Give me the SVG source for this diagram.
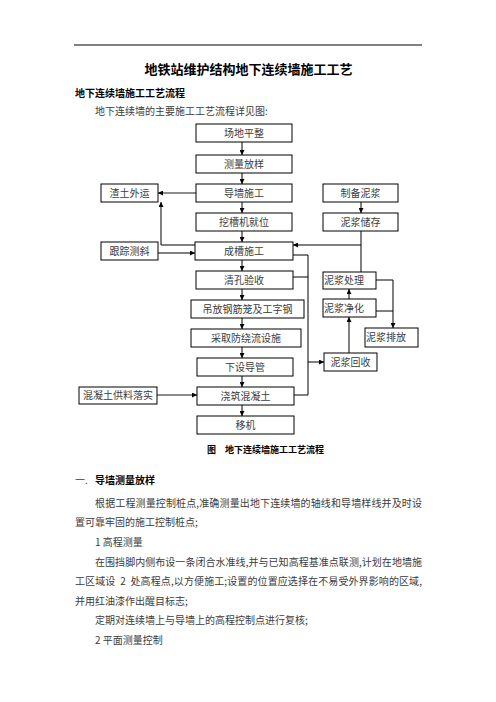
<svg xmlns="http://www.w3.org/2000/svg" width="496" height="702" viewBox="0 0 496 702">
<defs>
<style>
text{font-family:"Noto Sans CJK SC","Noto Sans",sans-serif;fill:#3c3c3c;font-size:10px}
.t{font-size:13px;font-weight:bold;fill:#000}
.h{font-weight:bold;fill:#000}
.c{font-size:9px;font-weight:bold;fill:#000}
.b{fill:#fff;stroke:#000;stroke-width:1}
.n text{text-anchor:middle}
.n text.l{text-anchor:start}
.k{fill:none;stroke:#000;stroke-width:1}
.g{fill:none;stroke:#666;stroke-width:1.6}
.pre{white-space:pre}
</style>
<marker id="a" viewBox="0 0 6 6" refX="6" refY="3" markerWidth="5" markerHeight="5" markerUnits="userSpaceOnUse" orient="auto">
<path d="M0,0 L6,3 L0,6 z" fill="#000"/>
</marker>
</defs>
<rect width="496" height="702" fill="#fff"/>
<line x1="74" y1="45" x2="422" y2="45" stroke="#000" stroke-width="1"/>
<text class="t" x="248.5" y="74" text-anchor="middle">地铁站维护结构地下连续墙施工工艺</text>
<text class="h" x="75" y="97">地下连续墙施工工艺流程</text>
<text x="95" y="115">地下连续墙的主要施工工艺流程详见图:</text>

<g id="connectors">
<line class="k" x1="242" y1="142" x2="242" y2="155" marker-end="url(#a)"/>
<line class="k" x1="242" y1="173" x2="242" y2="184" marker-end="url(#a)"/>
<line class="k" x1="242" y1="202" x2="242" y2="213" marker-end="url(#a)"/>
<line class="k" x1="242" y1="231" x2="242" y2="242" marker-end="url(#a)"/>
<line class="k" x1="242" y1="260" x2="242" y2="271" marker-end="url(#a)"/>
<line class="k" x1="242" y1="289" x2="242" y2="300" marker-end="url(#a)"/>
<line class="k" x1="242" y1="318" x2="242" y2="329" marker-end="url(#a)"/>
<line class="k" x1="242" y1="347" x2="242" y2="358" marker-end="url(#a)"/>
<line class="k" x1="242" y1="376" x2="242" y2="387" marker-end="url(#a)"/>
<line class="k" x1="242" y1="405" x2="242" y2="416" marker-end="url(#a)"/>
<line class="g" x1="196" y1="193" x2="158" y2="193" marker-end="url(#a)"/>
<polyline class="k" points="195,245 161,245 161,202" marker-end="url(#a)"/>
<line class="k" x1="158" y1="253" x2="195" y2="253" marker-end="url(#a)"/>
<line class="g" x1="157" y1="395" x2="197" y2="395" marker-end="url(#a)"/>
<line class="k" x1="361" y1="202" x2="361" y2="213" marker-end="url(#a)"/>
<line class="k" x1="361" y1="231" x2="361" y2="272"/>
<line class="k" x1="361" y1="245" x2="293" y2="245" marker-end="url(#a)"/>
<polyline class="k" points="293,255 308,255 308,395 294,395"/>
<line class="k" x1="293" y1="277" x2="308" y2="277"/>
<line class="k" x1="308" y1="362" x2="324" y2="362" marker-end="url(#a)"/>
<line class="k" x1="349" y1="353" x2="349" y2="317" marker-end="url(#a)"/>
<line class="k" x1="349" y1="299" x2="349" y2="289" marker-end="url(#a)"/>
<polyline class="k" points="376,280 393,280 393,328" marker-end="url(#a)"/>
<line class="k" x1="376" y1="311" x2="393" y2="311"/>
</g>

<g class="n">
<g id="n1"><rect class="b" x="196" y="124" width="96" height="18"/><text x="244" y="136.8">场地平整</text></g>
<g id="n2"><rect class="b" x="196" y="155" width="96" height="18"/><text x="244" y="167.8">测量放样</text></g>
<g id="n3"><rect class="b" x="196" y="184" width="96" height="18"/><text x="244" y="196.8">导墙施工</text></g>
<g id="n4"><rect class="b" x="196" y="213" width="96" height="18"/><text x="244" y="225.8">挖槽机就位</text></g>
<g id="n5"><rect class="b" x="195" y="242" width="98" height="18"/><text x="244" y="254.8">成槽施工</text></g>
<g id="n6"><rect class="b" x="196" y="271" width="97" height="18"/><text x="244" y="283.8">清孔验收</text></g>
<g id="n7"><rect class="b" x="191" y="300" width="113" height="18"/><text x="247.5" y="312.8">吊放钢筋笼及工字钢</text></g>
<g id="n8"><rect class="b" x="191" y="329" width="110" height="18"/><text x="246" y="341.8">采取防绕流设施</text></g>
<g id="n9"><rect class="b" x="197" y="358" width="96" height="18"/><text x="245" y="370.8">下设导管</text></g>
<g id="n10"><rect class="b" x="197" y="387" width="97" height="18"/><text x="245.5" y="399.8">浇筑混凝土</text></g>
<g id="n11"><rect class="b" x="197" y="416" width="97" height="18"/><text x="245.5" y="428.8">移机</text></g>
<g id="n12"><rect class="b" x="101" y="184" width="57" height="18"/><text x="129.5" y="196.8">渣土外运</text></g>
<g id="n13"><rect class="b" x="101" y="242" width="57" height="18"/><text x="129.5" y="254.8">跟踪测斜</text></g>
<g id="n14"><rect class="b" x="79" y="387" width="78" height="17"/><text x="118" y="399.3">混凝土供料落实</text></g>
<g id="n15"><rect class="b" x="323" y="184" width="75" height="18"/><text x="360.5" y="196.8">制备泥浆</text></g>
<g id="n16"><rect class="b" x="323" y="213" width="75" height="18"/><text x="360.5" y="225.8">泥浆储存</text></g>
<g id="n17"><rect class="b" x="323" y="272" width="53" height="17"/><text class="l" x="324" y="284.3">泥浆处理</text></g>
<g id="n18"><rect class="b" x="323" y="299" width="53" height="18"/><text class="l" x="324" y="311.8">泥浆净化</text></g>
<g id="n19"><rect class="b" x="365" y="328" width="53" height="19"/><text class="l" x="366" y="341.3">泥浆排放</text></g>
<g id="n20"><rect class="b" x="324" y="353" width="53" height="18"/><text x="350.5" y="365.8">泥浆回收</text></g>
</g>

<text class="c" x="207" y="452.5">图</text>
<text class="c" x="225" y="452.5">地下连续墙施工工艺流程</text>

<text x="75" y="484">一.</text>
<text class="h" x="95" y="484">导墙测量放样</text>
<text x="95" y="507" textLength="327" lengthAdjust="spacing">根据工程测量控制桩点,准确测量出地下连续墙的轴线和导墙样线并及时设</text>
<text x="75" y="526">置可靠牢固的施工控制桩点;</text>
<text x="95" y="546">1 高程测量</text>
<text x="95" y="566" textLength="327" lengthAdjust="spacing">在围挡脚内侧布设一条闭合水准线,并与已知高程基准点联测,计划在地墙施</text>
<text class="pre" x="75" y="585" textLength="347" lengthAdjust="spacing">工区域设  2  处高程点,以方便施工;设置的位置应选择在不易受外界影响的区域,</text>
<text x="75" y="605">并用红油漆作出醒目标志;</text>
<text x="95" y="624">定期对连续墙上与导墙上的高程控制点进行复核;</text>
<text x="95" y="644">2 平面测量控制</text>
</svg>
